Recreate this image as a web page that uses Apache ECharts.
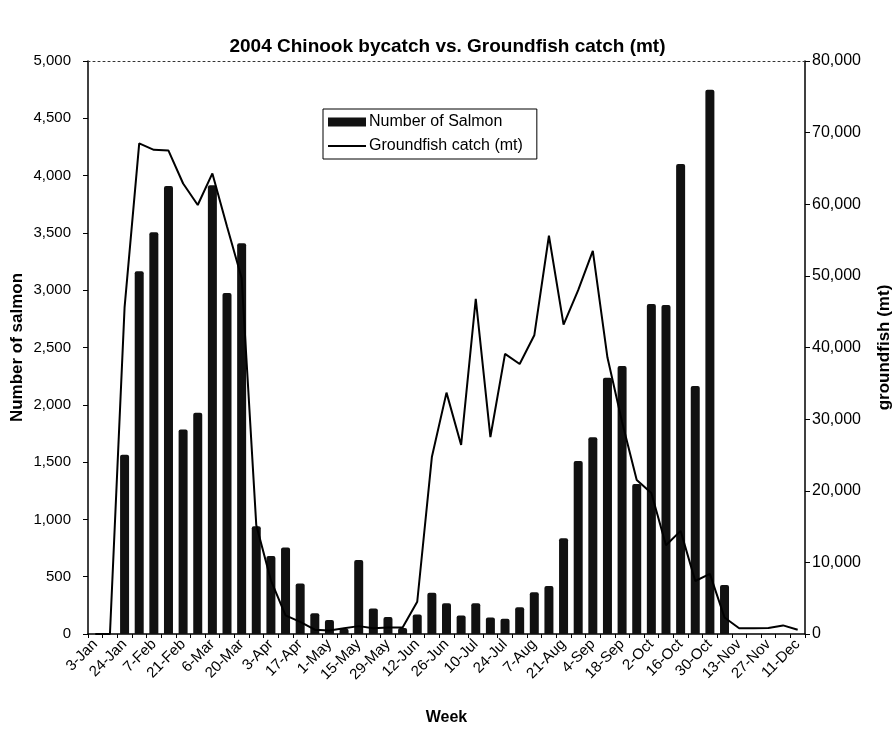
<!DOCTYPE html>
<html>
<head>
<meta charset="utf-8">
<script src="https://cdn.jsdelivr.net/npm/echarts@6/dist/echarts.min.js"></script>
<style>
  html, body { margin: 0; padding: 0; background: #fff; }
  #chart { width: 895px; height: 731px; }
</style>
</head>
<body>
<div id="chart"></div>
<script>
// Week-ending dates (labels shown every other week)
const weeks = ['3-Jan','17-Jan','24-Jan','31-Jan','7-Feb','14-Feb','21-Feb','28-Feb','6-Mar','13-Mar','20-Mar','27-Mar','3-Apr','10-Apr','17-Apr','24-Apr','1-May','8-May','15-May','22-May','29-May','5-Jun','12-Jun','19-Jun','26-Jun','3-Jul','10-Jul','17-Jul','24-Jul','31-Jul','7-Aug','14-Aug','21-Aug','28-Aug','4-Sep','11-Sep','18-Sep','25-Sep','2-Oct','9-Oct','16-Oct','23-Oct','30-Oct','6-Nov','13-Nov','20-Nov','27-Nov','4-Dec','11-Dec'];

// Number of Chinook salmon (left axis)
const salmon = [null, null, 1565, 3165, 3505, 3910, 1785, 1930, 3915, 2975, 3410, 940, 680, 755, 440, 180, 122, 45, 646, 222, 148, 52, 170, 360, 268, 162, 268, 145, 134, 233, 364, 419, 835, 1510, 1716, 2237, 2338, 1309, 2880, 2871, 4101, 2164, 4750, 428, null, null, null, null, null];

// Groundfish catch in metric tons (right axis)
const groundfish = [0, 0, 45600, 68500, 67600, 67500, 62900, 59900, 64300, 56900, 49700, 15200, 7500, 2600, 1700, 600, 500, 800, 1100, 800, 900, 900, 4500, 24700, 33700, 26400, 46800, 27500, 39100, 37700, 41700, 55600, 43200, 48000, 53500, 38600, 29600, 21500, 19700, 12400, 14400, 7400, 8400, 2300, 800, 800, 850, 1200, 600];

const leftTicks = { min: 0, max: 5000, interval: 500 };
const rightTicks = { min: 0, max: 80000, interval: 10000 };

const FONT = 'Arial, "Liberation Sans", Helvetica, sans-serif';
const fmt = v => Number(v).toLocaleString('en-US');

const chart = echarts.init(document.getElementById('chart'), null, { renderer: 'canvas' });
chart.setOption({
  animation: false,
  backgroundColor: '#fff',
  textStyle: { fontFamily: FONT, color: '#000' },
  title: {
    text: '2004 Chinook bycatch vs. Groundfish catch (mt)',
    left: 'center',
    top: 32,
    textStyle: { fontFamily: FONT, fontSize: 19, fontWeight: 'bold', color: '#000' }
  },
  legend: {
    orient: 'vertical',
    left: 323,
    top: 109,
    padding: [5, 14, 5, 5],
    itemGap: 8,
    itemWidth: 38,
    itemHeight: 9,
    borderColor: '#000',
    borderWidth: 1,
    borderRadius: 0,
    backgroundColor: '#fff',
    textStyle: { fontFamily: FONT, fontSize: 16, color: '#000', padding: [0, 0, 0, -2] },
    data: [
      { name: 'Number of Salmon', icon: 'rect' },
      { name: 'Groundfish catch (mt)', icon: 'path://M0,0 L38,0 L38,2 L0,2 Z' }
    ]
  },
  grid: { left: 88, right: 90, top: 61, bottom: 97, containLabel: false, outerBoundsMode: 'none' },
  xAxis: [
    {
      type: 'category',
      data: weeks,
      boundaryGap: true,
      name: 'Week',
      nameLocation: 'middle',
      nameGap: 76,
      nameMoveOverlap: false,
      nameTextStyle: { fontFamily: FONT, fontSize: 16, fontWeight: 'bold', color: '#000' },
      axisLine: { lineStyle: { color: '#000', width: 1.5 } },
      axisTick: { show: true, interval: 0, length: 4, lineStyle: { color: '#000' } },
      axisLabel: { interval: 1, rotate: 45, fontSize: 15, color: '#000', margin: 8, fontFamily: FONT }
    },
    {
      type: 'category',
      data: weeks,
      position: 'top',
      axisLine: { show: true, onZero: false, lineStyle: { color: '#333', width: 1, type: [2, 3] } },
      axisTick: { show: false },
      axisLabel: { show: false }
    }
  ],
  yAxis: [
    {
      type: 'value',
      min: leftTicks.min, max: leftTicks.max, interval: leftTicks.interval,
      name: 'Number of salmon',
      nameLocation: 'middle',
      nameGap: 62,
      nameMoveOverlap: false,
      nameRotate: 90,
      nameTextStyle: { fontFamily: FONT, fontSize: 17, fontWeight: 'bold', color: '#000' },
      axisLine: { show: true, lineStyle: { color: '#000', width: 1.5 } },
      axisTick: { show: true, length: 5, lineStyle: { color: '#000' } },
      splitLine: { show: false },
      axisLabel: { fontSize: 15, color: '#000', margin: 17, formatter: fmt, fontFamily: FONT }
    },
    {
      type: 'value',
      position: 'right',
      min: rightTicks.min, max: rightTicks.max, interval: rightTicks.interval,
      name: 'groundfish (mt)',
      nameLocation: 'middle',
      nameGap: 71,
      nameMoveOverlap: false,
      nameRotate: 90,
      nameTextStyle: { fontFamily: FONT, fontSize: 17, fontWeight: 'bold', color: '#000' },
      axisLine: { show: true, lineStyle: { color: '#000', width: 1.5 } },
      axisTick: { show: true, length: 5, lineStyle: { color: '#000' } },
      splitLine: { show: false },
      axisLabel: { fontSize: 16, color: '#000', margin: 7, formatter: fmt, fontFamily: FONT }
    }
  ],
  series: [
    {
      name: 'Number of Salmon',
      type: 'bar',
      xAxisIndex: 0,
      yAxisIndex: 0,
      data: salmon,
      barWidth: 9,
      itemStyle: { color: '#111', borderRadius: [2, 2, 0, 0] }
    },
    {
      name: 'Groundfish catch (mt)',
      type: 'line',
      xAxisIndex: 0,
      yAxisIndex: 1,
      data: groundfish,
      symbol: 'none',
      lineStyle: { color: '#000', width: 2 },
      itemStyle: { color: '#000' },
      z: 3
    }
  ]
});
</script>
</body>
</html>
